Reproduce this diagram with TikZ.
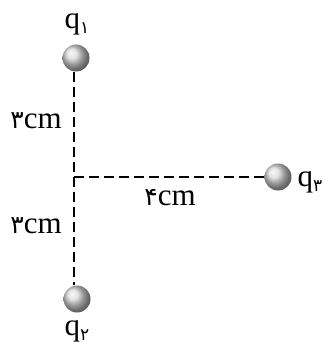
\documentclass[tikz,border=0pt]{standalone}
\usepackage{fontspec}
\setmainfont{Liberation Serif}
\newfontfamily\fafont[Script=Arabic]{DejaVu Sans}
\newcommand{\fadigit}[1]{{\fontsize{25}{26}\fafont #1}}
\newcommand{\fasub}[1]{\raisebox{-0.4ex}{\fontsize{17}{17}\fafont #1}}
\tikzset{
  charge/.style={circle, minimum size=27pt, inner sep=0pt, shading=ball, ball color=gray!30},
  dist/.style={line width=2pt, dash pattern=on 10pt off 5pt},
  lbl/.style={font=\fontsize{31}{33}\selectfont, inner sep=0pt}
}
\begin{document}
\begin{tikzpicture}[x=1pt, y=-1pt]
    \useasboundingbox (0,0) rectangle (330,351);

    % Charges
    \node[charge] (q1) at (76,58) {};
    \node[charge] (q2) at (77,299) {};
    \node[charge] (q3) at (278,177) {};
    \coordinate (o) at (74,177);
    \coordinate (top) at (74,58);
    \coordinate (bot) at (74,299);

    % Distances
    \draw[dist] ([yshift=-14pt]top) -- ([yshift=14pt]bot);
    \draw[dist] (o) -- (q3);

    % Labels of the charges
    \node[lbl] (lq1) at (77,24) {q\fasub{۱}};
    \node[lbl] (lq2) at (77,331) {q\fasub{۲}};
    \node[lbl] (lq3) at (310,182) {q\fasub{۳}};

    % Labels of the distances
    \node[lbl] (la) at (36,121) {\fadigit{۳}cm};
    \node[lbl] (lb) at (36,226) {\fadigit{۳}cm};
    \node[lbl] (lc) at (170,198) {\fadigit{۴}cm};

\end{tikzpicture}
\end{document}
